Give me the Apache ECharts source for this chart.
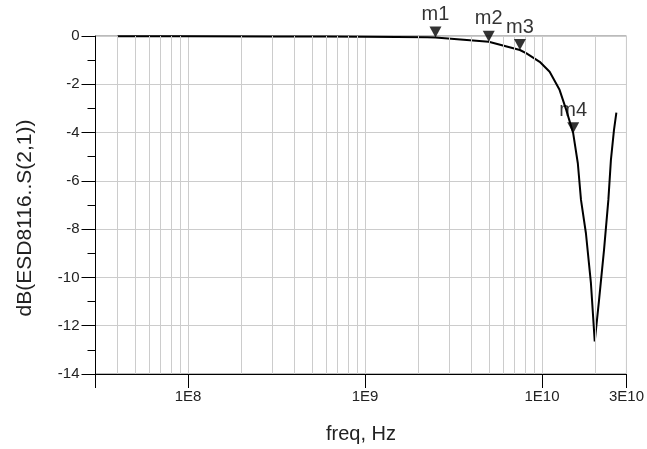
<!DOCTYPE html>
<html>
<head>
<meta charset="utf-8">
<script src="https://cdn.jsdelivr.net/npm/echarts@6/dist/echarts.min.js"></script>
<style>
html,body{margin:0;padding:0;background:#fff;}
#chart{width:647px;height:449px;}
</style>
</head>
<body>
<div id="chart"></div>
<script>
// Frequency (Hz) and S21 (dB)
const freqHz = [4e7, 1e8, 3e8, 6e8, 1e9, 1.5e9, 2.25e9, 2.5e9, 3.46e9, 5e9, 7.5e9, 8.17e9, 9.7e9, 1.104e10, 1.256e10, 1.37e10, 1.5e10, 1.593e10, 1.66e10, 1.77e10, 1.889e10, 1.985e10, 2.1e10, 2.24e10, 2.37e10, 2.45e10, 2.55e10, 2.63e10];
const s21dB = [-0.01, -0.01, -0.02, -0.02, -0.03, -0.04, -0.05, -0.06, -0.14, -0.24, -0.58, -0.72, -1.07, -1.48, -2.23, -3.06, -4.03, -5.27, -6.79, -8.17, -10.24, -12.65, -10.93, -8.86, -6.79, -5.13, -3.89, -3.17];

// Markers
const markerNames = ['m1', 'm2', 'm3', 'm4'];
const markerFreq = [2.5e9, 5e9, 7.5e9, 1.5e10];
const markerDB = [-0.06, -0.24, -0.58, -4.03];

// Minor vertical grid lines (log decades)
const minorGridFreq = [4e7, 5e7, 6e7, 7e7, 8e7, 9e7,
  2e8, 3e8, 4e8, 5e8, 6e8, 7e8, 8e8, 9e8,
  2e9, 3e9, 4e9, 5e9, 6e9, 7e9, 8e9, 9e9,
  2e10];

const xMin = 3e7, xMax = 3e10;
const yMin = -14, yMax = 0, yStep = 2;

const FONT = 'Liberation Sans, Arial, sans-serif';
const chart = echarts.init(document.getElementById('chart'), null, {renderer: 'canvas'});

chart.setOption({
  animation: false,
  backgroundColor: '#fff',
  grid: {left: 95.5, top: 36, right: 17, bottom: 75, show: true, borderColor: '#777', borderWidth: 1, containLabel: false},
  xAxis: {
    type: 'log',
    min: xMin, max: xMax,
    position: 'bottom',
    name: 'freq, Hz',
    nameLocation: 'middle',
    nameGap: 50,
    nameTextStyle: {fontFamily: FONT, fontSize: 20, color: '#222'},
    axisLine: {show: true, onZero: false, lineStyle: {color: '#000', width: 1}},
    axisTick: {show: true, inside: false, length: 14, lineStyle: {color: '#000'}},
    minorTick: {show: false},
    axisLabel: {
      fontFamily: FONT, fontSize: 15, color: '#222', margin: 15,
      showMinLabel: true, showMaxLabel: true,
      formatter: function (v) {
        if (v < 5e7) return '';
        const e = Math.floor(Math.log10(v) + 1e-9);
        const m = Math.round(v / Math.pow(10, e));
        return m + 'E' + e;
      }
    },
    splitLine: {show: true, lineStyle: {color: '#ccc', width: 1}},
    minorSplitLine: {show: false}
  },
  yAxis: {
    type: 'value',
    min: yMin, max: yMax, interval: yStep,
    position: 'left',
    name: 'dB(ESD8116..S(2,1))',
    nameLocation: 'middle',
    nameGap: 60,
    nameRotate: 90,
    nameTextStyle: {fontFamily: FONT, fontSize: 21, color: '#222', padding: [0, 26, 0, 0]},
    axisLine: {show: true, onZero: false, lineStyle: {color: '#000', width: 1}},
    axisTick: {show: true, inside: false, length: 14, lineStyle: {color: '#000'}},
    minorTick: {show: true, splitNumber: 2, length: 8, lineStyle: {color: '#000'}},
    axisLabel: {fontFamily: FONT, fontSize: 15, color: '#222', margin: 16},
    splitLine: {show: true, lineStyle: {color: '#ccc', width: 1}}
  },
  series: [
    {
      type: 'line',
      data: [],
      z: 1,
      silent: true,
      markLine: {
        silent: true,
        symbol: 'none',
        animation: false,
        label: {show: false},
        lineStyle: {type: 'solid', color: '#ccc', width: 1},
        emphasis: {disabled: true},
        data: minorGridFreq.map(f => ({xAxis: f}))
      }
    },
    {
      type: 'line',
      z: 3,
      data: freqHz.map((f, i) => [f, s21dB[i]]),
      showSymbol: false,
      symbol: 'none',
      lineStyle: {color: '#000', width: 2},
      silent: true
    },
    {
      type: 'scatter',
      z: 5,
      data: markerFreq.map((f, i) => ({name: markerNames[i], value: [f, markerDB[i]]})),
      symbol: 'path://M0,0 L12,0 L6,11 Z',
      symbolSize: [12, 11],
      symbolOffset: [0, '-50%'],
      itemStyle: {color: '#000'},
      label: {
        show: true, position: 'top', distance: 2,
        formatter: p => p.name,
        fontFamily: FONT, fontSize: 20, color: '#000'
      },
      silent: true
    }
  ]
});
</script>
</body>
</html>
